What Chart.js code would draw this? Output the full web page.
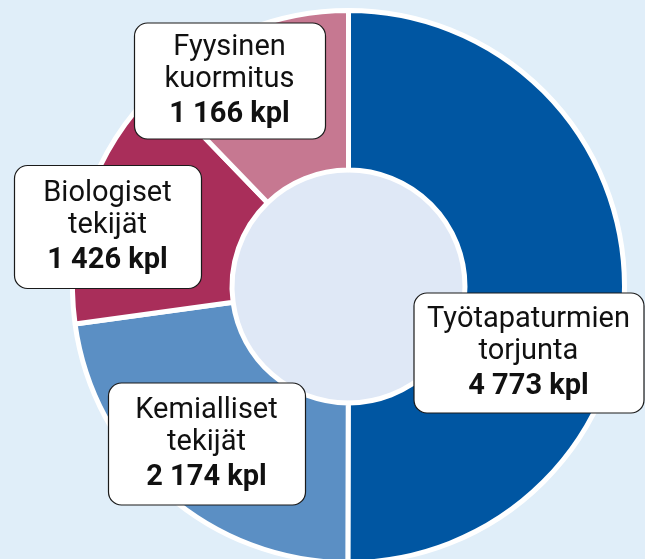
<!DOCTYPE html>
<html lang="fi">
<head>
<meta charset="utf-8">
<script src="https://cdn.jsdelivr.net/npm/chart.js@4/dist/chart.umd.min.js"></script>
<style>
  html, body { margin: 0; padding: 0; }
  body { width: 645px; height: 559px; overflow: hidden; background: #e0eef9; position: relative; }
  #wrap { position: absolute; left: 0; top: 0; width: 645px; height: 565px; }
</style>
</head>
<body>
<div id="wrap"><canvas id="aiheChart"></canvas></div>
<script>
// data, clockwise from the top
const categories = [['Työtapaturmien', 'torjunta'], ['Kemialliset', 'tekijät'], ['Biologiset', 'tekijät'], ['Fyysinen', 'kuormitus']];
const counts = [4773, 2174, 1426, 1166];
const unit = 'kpl';

// colours and label box layout (offset from chart centre, box size)
const sliceColors = ['#0056a2', '#5b8fc4', '#a92e5a', '#c67891'];
const boxLayout = [
  { dx: 180, dy: 66, w: 230, h: 120 },
  { dx: -142, dy: 157, w: 197, h: 122 },
  { dx: -241, dy: -60, w: 187, h: 123 },
  { dx: -119, dy: -206, w: 191, h: 116 }
];

function fmt(n) {
  return n.toString().replace(/\B(?=(\d{3})+(?!\d))/g, ' ');
}

function roundRect(ctx, x, y, w, h, r) {
  ctx.beginPath();
  ctx.moveTo(x + r, y);
  ctx.arcTo(x + w, y, x + w, y + h, r);
  ctx.arcTo(x + w, y + h, x, y + h, r);
  ctx.arcTo(x, y + h, x, y, r);
  ctx.arcTo(x, y, x + w, y, r);
  ctx.closePath();
}

// light disc inside the ring
const centerFill = {
  id: 'centerFill',
  beforeDatasetsDraw(chart) {
    const arc = chart.getDatasetMeta(0).data[0];
    if (!arc) return;
    const ctx = chart.ctx;
    ctx.save();
    ctx.beginPath();
    ctx.arc(arc.x, arc.y, arc.innerRadius, 0, Math.PI * 2);
    ctx.fillStyle = '#dfe8f6';
    ctx.fill();
    ctx.restore();
  }
};

// white boxes with name + count
const boxLabels = {
  id: 'boxLabels',
  afterDraw(chart) {
    const ctx = chart.ctx;
    const arcs = chart.getDatasetMeta(0).data;
    arcs.forEach((arc, i) => {
      const b = boxLayout[i];
      const cx = arc.x + b.dx, cy = arc.y + b.dy;
      ctx.save();
      roundRect(ctx, cx - b.w / 2 + 0.5, cy - b.h / 2 + 0.5, b.w, b.h, 13);
      ctx.fillStyle = '#ffffff';
      ctx.fill();
      ctx.lineWidth = 1.2;
      ctx.strokeStyle = '#1a1a1a';
      ctx.stroke();

      ctx.fillStyle = '#111111';
      ctx.textAlign = 'center';
      ctx.textBaseline = 'middle';
      ctx.font = '29px Roboto';
      ctx.fillText(categories[i][0], cx, cy - 33);
      ctx.fillText(categories[i][1], cx, cy - 1);
      ctx.font = 'bold 29px Roboto';
      ctx.fillText(fmt(counts[i]) + ' ' + unit, cx, cy + 34);
      ctx.restore();
    });
  }
};

const ctx = document.getElementById('aiheChart').getContext('2d');

new Chart(ctx, {
  type: 'doughnut',
  data: {
    labels: categories.map(c => c.join(' ')),
    datasets: [{
      data: counts,
      backgroundColor: sliceColors,
      borderColor: '#ffffff',
      borderWidth: 5
    }]
  },
  options: {
    responsive: true,
    maintainAspectRatio: false,
    animation: false,
    cutout: '42.2%',
    layout: { padding: { left: 70, top: 8, right: 18, bottom: 0 } },
    plugins: {
      legend: { display: false },
      tooltip: { enabled: false }
    }
  },
  plugins: [centerFill, boxLabels]
});
</script>
</body>
</html>
